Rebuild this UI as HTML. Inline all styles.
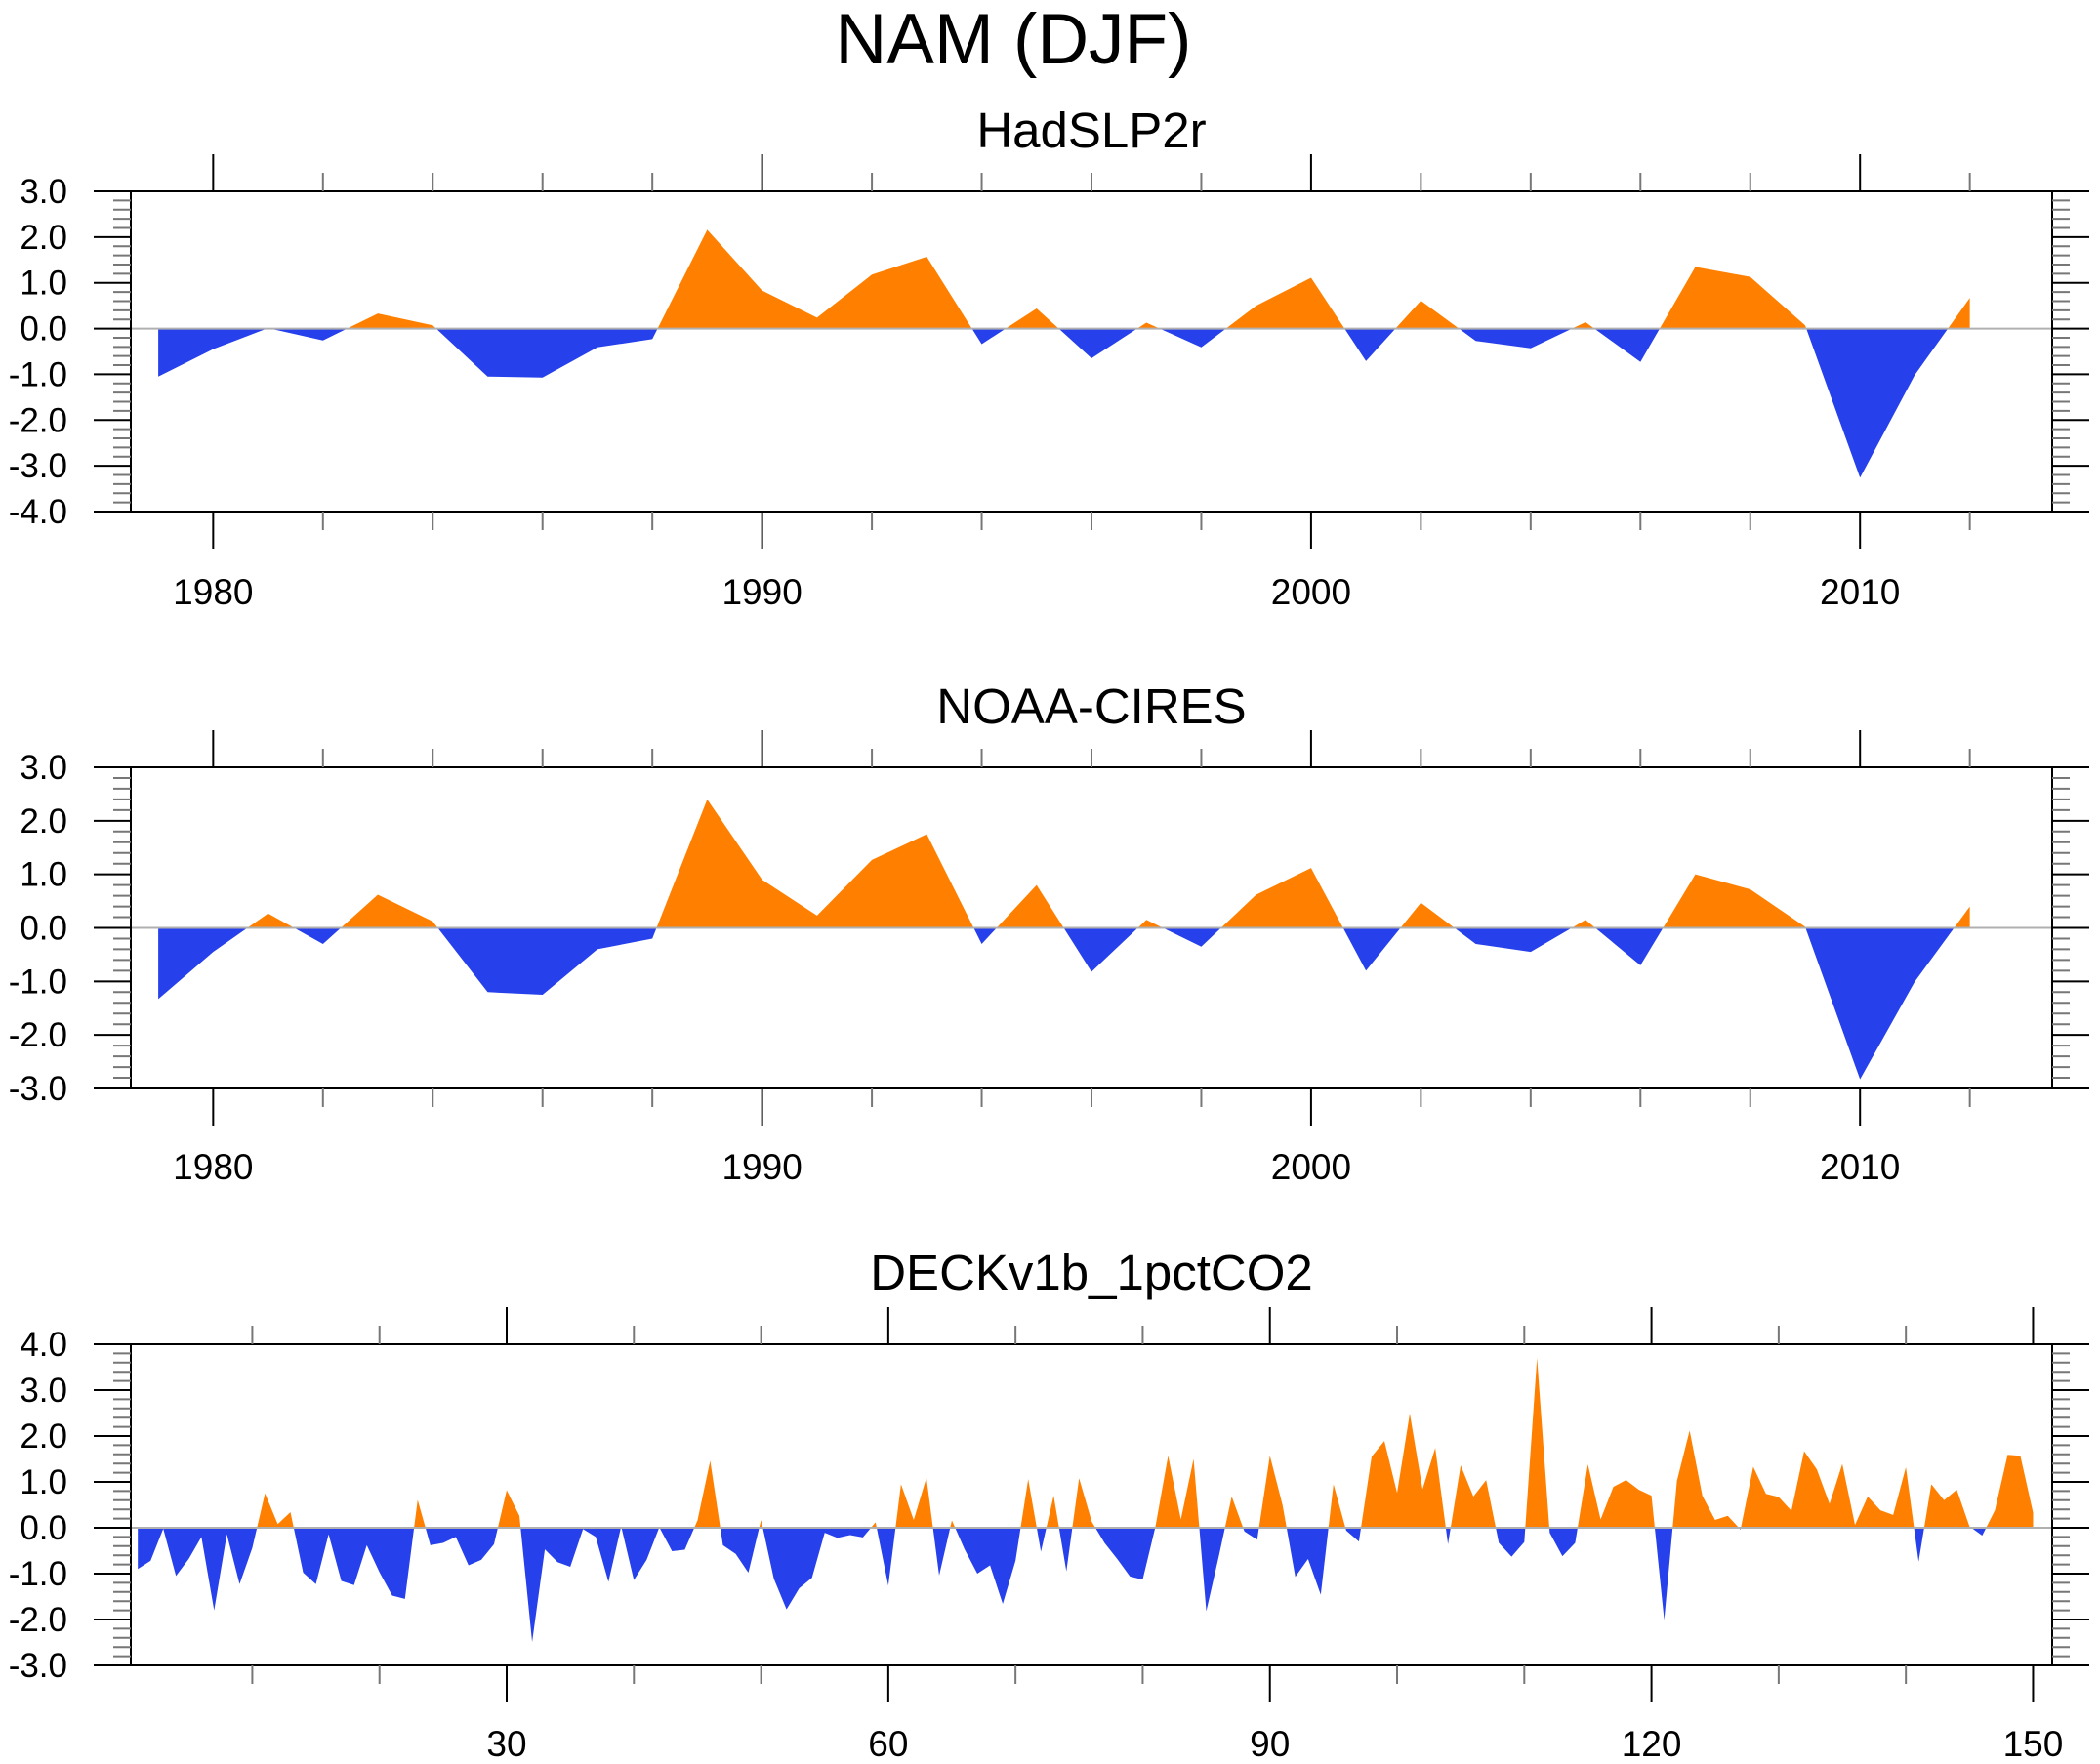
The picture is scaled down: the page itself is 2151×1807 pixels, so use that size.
<!DOCTYPE html>
<html><head><meta charset="utf-8"><style>
html,body{margin:0;padding:0;background:#fff;}
svg{display:block;font-family:"Liberation Sans",sans-serif;}
</style></head><body>
<svg id="chart" width="2151" height="1807" viewBox="0 0 2151 1807" xmlns="http://www.w3.org/2000/svg">
<rect width="2151" height="1807" fill="#fff"/>
<text x="1038" y="65" font-size="73" text-anchor="middle">NAM (DJF)</text>
</svg>
<script>
const years = [];
for (let y = 1979; y <= 2012; y++) years.push(y);
const hadValues = [-1.05,-0.45,0.01,-0.26,0.33,0.07,-1.05,-1.07,-0.41,-0.23,2.16,0.83,0.24,1.18,1.57,-0.34,0.44,-0.65,0.13,-0.41,0.50,1.11,-0.71,0.61,-0.27,-0.43,0.14,-0.73,1.35,1.13,0.07,-3.26,-1.01,0.67];
const noaaValues = [-1.33,-0.45,0.27,-0.30,0.62,0.12,-1.20,-1.25,-0.40,-0.20,2.40,0.90,0.23,1.27,1.75,-0.30,0.80,-0.82,0.15,-0.35,0.62,1.12,-0.80,0.47,-0.30,-0.45,0.15,-0.70,1.00,0.72,0.02,-2.83,-1.00,0.40];
const deckIndex = [];
for (let i = 1; i <= 150; i++) deckIndex.push(i);
const deckValues = [-0.9,-0.72,-0.02,-1.05,-0.68,-0.2,-1.8,-0.14,-1.23,-0.44,
0.75,0.08,0.34,-0.98,-1.23,-0.14,-1.16,-1.25,-0.38,-0.97,
-1.48,-1.55,0.61,-0.38,-0.33,-0.2,-0.82,-0.7,-0.36,0.82,
0.26,-2.49,-0.47,-0.75,-0.85,-0.03,-0.2,-1.18,0.03,-1.14,
-0.7,0.01,-0.51,-0.48,0.16,1.46,-0.38,-0.57,-0.98,0.17,
-1.11,-1.78,-1.32,-1.09,-0.11,-0.22,-0.16,-0.21,0.12,-1.26,
0.95,0.17,1.09,-1.04,0.16,-0.47,-1.0,-0.82,-1.66,-0.72,
1.06,-0.52,0.7,-0.95,1.08,0.13,-0.33,-0.68,-1.06,-1.13,
0.02,1.57,0.18,1.5,-1.82,-0.6,0.68,-0.08,-0.26,1.57,
0.49,-1.07,-0.68,-1.46,0.95,-0.06,-0.3,1.55,1.89,0.76,
2.49,0.84,1.74,-0.36,1.36,0.68,1.04,-0.33,-0.63,-0.31,
3.7,-0.11,-0.62,-0.33,1.38,0.18,0.89,1.04,0.83,0.7,
-2.01,1.02,2.12,0.7,0.17,0.26,-0.04,1.33,0.74,0.67,
0.37,1.67,1.27,0.52,1.39,0.06,0.68,0.38,0.28,1.32,
-0.74,0.95,0.6,0.83,0.03,-0.17,0.38,1.59,1.57,0.33];
const yearTicks = [1980,1990,2000,2010];
const deckTicks = [30,60,90,120,150];

const NS = "http://www.w3.org/2000/svg";
const svg = document.getElementById('chart');
function mk(tag, attrs, parent) {
  const e = document.createElementNS(NS, tag);
  for (const k in attrs) e.setAttribute(k, attrs[k]);
  (parent || svg).appendChild(e);
  return e;
}
let clipId = 0;
function panel(cfg) {
  const g = mk('g', {});
  
  
  const L = 134, R = 2102, T = cfg.top, B = cfg.bottom;
  const sx = v => L + (v - cfg.xmin) / (cfg.xmax - cfg.xmin) * (R - L);
  const sy = v => B - (v - cfg.ymin) / (cfg.ymax - cfg.ymin) * (B - T);
  const t = mk('text', {x: 1118, y: cfg.titleY, 'font-size': 51, 'text-anchor': 'middle'}, g);
  t.textContent = cfg.title;
  
  
  const y0 = sy(0);
  let d = 'M' + sx(cfg.xs[0]) + ',' + y0;
  cfg.xs.forEach((x, i) => { d += ' L' + sx(x) + ',' + sy(cfg.vals[i]); });
  d += ' L' + sx(cfg.xs[cfg.xs.length - 1]) + ',' + y0 + ' Z';
  const id1 = 'cp' + (clipId++), id2 = 'cp' + (clipId++);
  const defs = mk('defs', {}, g);
  const c1 = mk('clipPath', {id: id1}, defs);
  mk('rect', {x: L, y: T, width: R - L, height: y0 - T}, c1);
  const c2 = mk('clipPath', {id: id2}, defs);
  mk('rect', {x: L, y: y0, width: R - L, height: B - y0}, c2);
  const pos = mk('path', {d: d, fill: '#ff8000', 'clip-path': 'url(#' + id1 + ')'}, g);
  
  
  const neg = mk('path', {d: d, fill: '#2640eb', 'clip-path': 'url(#' + id2 + ')'}, g);
  
  
  mk('line', {x1: L, x2: R, y1: y0, y2: y0, stroke: '#b0b0b0', 'stroke-width': 2}, g);
  const fr = mk('rect', {x: L, y: T, width: R - L, height: B - T, fill: 'none', stroke: '#000', 'stroke-width': 2}, g);
  
  
  for (let k = 0; k <= Math.round((cfg.ymax - cfg.ymin) * 5); k++) {
    const v = cfg.ymin + k * 0.2;
    const y = sy(v);
    const major = k % 5 === 0;
    const len = major ? 38 : 18;
    mk('line', {x1: L - len, x2: L, y1: y, y2: y, stroke: major ? '#000' : '#777', 'stroke-width': 2}, g);
    mk('line', {x1: R, x2: R + len, y1: y, y2: y, stroke: major ? '#000' : '#777', 'stroke-width': 2}, g);
    if (major) {
      const lb = mk('text', {x: 69, y: y + 12, 'font-size': 35, 'text-anchor': 'end'}, g);
      lb.textContent = v.toFixed(1);
      
      
    }
  }
  for (let v = Math.ceil(cfg.xmin / cfg.minor) * cfg.minor; v <= cfg.xmax; v += cfg.minor) {
    const x = sx(v);
    const major = cfg.majors.indexOf(v) >= 0 || (v % cfg.majorStep === 0);
    const len = major ? 38 : 19;
    mk('line', {x1: x, x2: x, y1: T - len, y2: T, stroke: major ? '#000' : '#777', 'stroke-width': 2}, g);
    mk('line', {x1: x, x2: x, y1: B, y2: B + len, stroke: major ? '#000' : '#777', 'stroke-width': 2}, g);
  }
  cfg.majors.forEach(v => {
    const lb = mk('text', {x: sx(v), y: cfg.labelY, 'font-size': 37, 'text-anchor': 'middle'}, g);
    lb.textContent = String(v);
    
    
  });
}
panel({name: 'hadslp2r-panel', title: 'HadSLP2r', titleY: 151, top: 196, bottom: 524, ymin: -4, ymax: 3,
  xmin: 1978.5, xmax: 2013.5, xs: years, vals: hadValues, majors: yearTicks, minor: 2, majorStep: 10, labelY: 619});
panel({name: 'noaa-cires-panel', title: 'NOAA-CIRES', titleY: 741, top: 786, bottom: 1115, ymin: -3, ymax: 3,
  xmin: 1978.5, xmax: 2013.5, xs: years, vals: noaaValues, majors: yearTicks, minor: 2, majorStep: 10, labelY: 1208});
panel({name: 'deck-1pctco2-panel', title: 'DECKv1b_1pctCO2', titleY: 1321, top: 1377, bottom: 1706, ymin: -3, ymax: 4,
  xmin: 0.45, xmax: 151.5, xs: deckIndex, vals: deckValues, majors: deckTicks, minor: 10, majorStep: 30, labelY: 1799});
</script>
</body></html>
